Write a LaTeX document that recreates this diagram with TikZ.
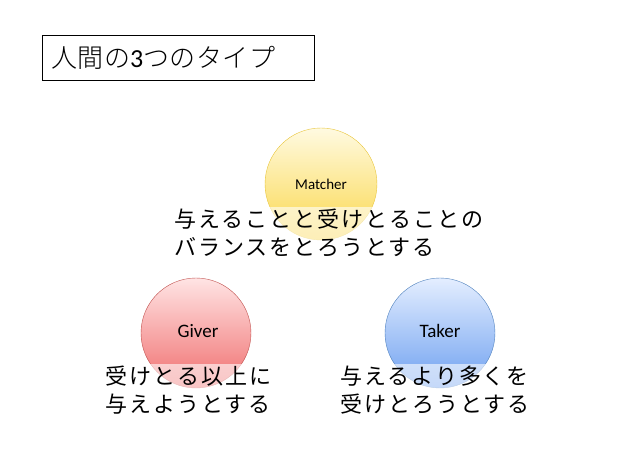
\documentclass[tikz,border=0pt]{standalone}
\usepackage{fontspec}
\setmainfont{Carlito}
\newfontfamily\jp{Noto Sans CJK JP}[LetterSpace=9]
\newfontfamily\jpt{Noto Sans CJK JP Light}[LetterSpace=2]
\begin{document}
\begin{tikzpicture}[x=1pt,y=-1pt,
  circ/.style={circle,minimum size=112pt,inner sep=0pt},
  lbl/.style={align=left,anchor=north west,fill=white,fill opacity=0.6,text opacity=1,inner sep=2pt,
    font=\jp\fontsize{22}{28}\selectfont}]
\useasboundingbox (0,0) rectangle (638,452);
\node[draw=black,thick,anchor=north west,minimum width=272pt,minimum height=45pt,inner sep=0pt] (title) at (42,35) {};
\node[anchor=west,inner sep=0pt,font=\jpt\fontsize{26}{28}\selectfont] (titletext) at ([xshift=9pt]title.west) {人間の\fontspec{Carlito}3\jpt つのタイプ};
\node[circ,draw={rgb,255:red,232;green,197;blue,58},top color={rgb,255:red,255;green,250;blue,225},bottom color={rgb,255:red,250;green,215;blue,75}] (m) at (321,184) {};
\node[font=\fontsize{15}{17}\selectfont] (mt) at (321,184) {Matcher};
\node[circ,minimum size=110pt,draw={rgb,255:red,192;green,80;blue,77},top color={rgb,255:red,255;green,228;blue,228},bottom color={rgb,255:red,240;green,110;blue,110}] (g) at (196,333) {};
\node[font=\fontsize{19}{21}\selectfont] (gt) at (198,331) {Giver};
\node[circ,minimum size=110pt,draw={rgb,255:red,79;green,129;blue,189},top color={rgb,255:red,228;green,238;blue,255},bottom color={rgb,255:red,110;green,160;blue,240}] (t) at (440,333) {};
\node[font=\fontsize{19}{21}\selectfont] (tt) at (440,331) {Taker};
\node[lbl] (ml) at (172,207) {与えることと受けとることの\\バランスをとろうとする};
\node[lbl] (gl) at (103,364) {受けとる以上に\\与えようとする};
\node[lbl] (tl) at (338,364) {与えるより多くを\\受けとろうとする};
\end{tikzpicture}
\end{document}
